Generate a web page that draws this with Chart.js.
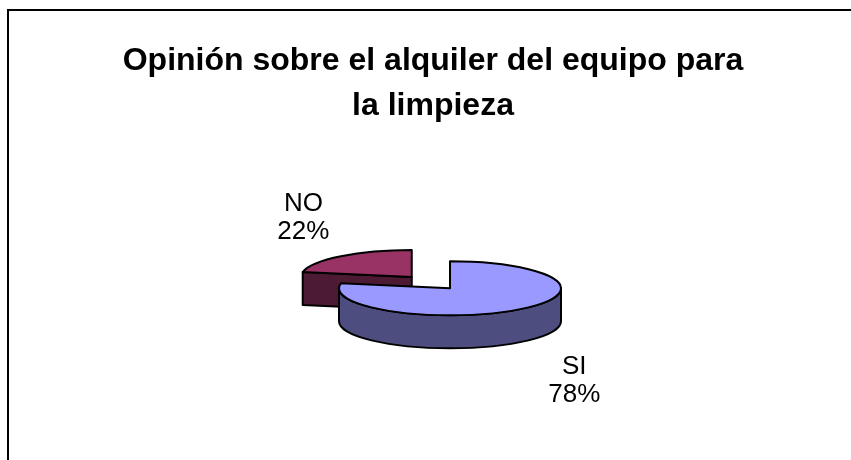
<!DOCTYPE html>
<html>
<head>
<meta charset="utf-8">
<title>Opinión sobre el alquiler del equipo para la limpieza</title>
<script src="https://cdn.jsdelivr.net/npm/chart.js@4/dist/chart.umd.min.js"></script>
<style>
  html, body { margin: 0; padding: 0; background: #fff; }
  canvas { display: block; }
</style>
</head>
<body>
<canvas id="pie" width="851" height="460"></canvas>
<script>
// data
const LABELS  = ['SI', 'NO'];
const VALUES  = [78, 22];
const TITLE   = ['Opinión sobre el alquiler del equipo para', 'la limpieza'];

// looks
const TOP_COLORS  = ['#9999FF', '#993366'];
const SIDE_COLORS = ['#4D4D80', '#4D1A33'];
const EXPLODE     = [0, 60];
const TILT    = 0.243;   // vertical squash of the disc
const DEPTH   = 33;      // thickness of the disc
const SHIFT_X = 17;      // pie sits a bit right of the title centre
const FONT    = "'Liberation Sans', Arial, sans-serif";

const frame = {
  id: 'frame',
  beforeDraw(chart) {
    const ctx = chart.ctx;
    ctx.save();
    ctx.fillStyle = '#fff';
    ctx.fillRect(0, 0, chart.width, chart.height);
    ctx.strokeStyle = '#000';
    ctx.lineWidth = 2;
    ctx.strokeRect(8, 10, chart.width + 20, chart.height + 20);
    ctx.restore();
  }
};

const pie3d = {
  id: 'pie3d',
  beforeDatasetsDraw(chart) {
    const ctx   = chart.ctx;
    const meta  = chart.getDatasetMeta(0);
    const total = VALUES.reduce((a, b) => a + b, 0);

    const slices = meta.data.map((arc, i) => {
      const p   = arc.getProps(['x', 'y', 'startAngle', 'endAngle', 'outerRadius'], true);
      const mid = (p.startAngle + p.endAngle) / 2;
      const off = arc.options.offset || 0;
      return {
        i, mid,
        a0: p.startAngle, a1: p.endAngle,
        rx: p.outerRadius, ry: p.outerRadius * TILT,
        cx: p.x + SHIFT_X + Math.cos(mid) * off,
        cy: p.y + Math.sin(mid) * off * TILT,
      };
    });

    ctx.save();
    ctx.lineWidth = 2;
    ctx.lineJoin = 'round';
    ctx.strokeStyle = '#000';

    // back slices first
    slices.slice().sort((a, b) => Math.sin(a.mid) - Math.sin(b.mid)).forEach(s => {
      const side = SIDE_COLORS[s.i];
      const pt = a => [s.cx + s.rx * Math.cos(a), s.cy + s.ry * Math.sin(a)];

      const wall = a => {
        const [x, y] = pt(a);
        ctx.beginPath();
        ctx.moveTo(s.cx, s.cy);
        ctx.lineTo(x, y);
        ctx.lineTo(x, y + DEPTH);
        ctx.lineTo(s.cx, s.cy + DEPTH);
        ctx.closePath();
        ctx.fillStyle = side;
        ctx.fill();
        ctx.stroke();
      };
      if (Math.cos(s.a0) < -1e-6) wall(s.a0);
      if (Math.cos(s.a1) > 1e-6) wall(s.a1);

      // outer curved wall, only the front half shows
      for (let k = -1; k <= 1; k++) {
        const lo = Math.max(s.a0, 2 * Math.PI * k);
        const hi = Math.min(s.a1, 2 * Math.PI * k + Math.PI);
        if (hi - lo <= 1e-6) continue;
        const [hx, hy] = pt(hi);
        ctx.beginPath();
        ctx.ellipse(s.cx, s.cy, s.rx, s.ry, 0, lo, hi, false);
        ctx.lineTo(hx, hy + DEPTH);
        ctx.ellipse(s.cx, s.cy + DEPTH, s.rx, s.ry, 0, hi, lo, true);
        ctx.closePath();
        ctx.fillStyle = side;
        ctx.fill();
        ctx.stroke();
      }

      // top face
      ctx.beginPath();
      ctx.moveTo(s.cx, s.cy);
      ctx.ellipse(s.cx, s.cy, s.rx, s.ry, 0, s.a0, s.a1, false);
      ctx.closePath();
      ctx.fillStyle = TOP_COLORS[s.i];
      ctx.fill();
      ctx.stroke();
    });

    // data labels, front ones pushed a little further out
    ctx.fillStyle = '#000';
    ctx.font = '26px ' + FONT;
    ctx.textAlign = 'center';
    ctx.textBaseline = 'middle';
    slices.forEach(s => {
      const c = Math.cos(s.mid), sn = Math.sin(s.mid);
      const x = s.cx + c * (s.rx + (sn > 0 ? 84 : 59));
      const y = s.cy + sn * (s.ry + 50) + (sn > 0 ? DEPTH : 0);
      const pct = Math.round(VALUES[s.i] / total * 100) + '%';
      ctx.fillText(LABELS[s.i], x, y - 14);
      ctx.fillText(pct, x, y + 14);
    });

    ctx.restore();
    return false;
  }
};

new Chart(document.getElementById('pie'), {
  type: 'pie',
  data: {
    labels: LABELS,
    datasets: [{
      data: VALUES,
      backgroundColor: TOP_COLORS,
      borderColor: '#000',
      borderWidth: 1,
      offset: EXPLODE,
    }],
  },
  options: {
    responsive: false,
    animation: false,
    radius: 111,
    layout: { padding: { top: 39, left: 22, right: 7, bottom: 22 } },
    plugins: {
      legend:  { display: false },
      tooltip: { enabled: false },
      title: {
        display: true,
        text: TITLE,
        color: '#000',
        font: { family: FONT, size: 32, weight: 'bold', lineHeight: 1.4 },
        padding: { top: 0, bottom: 10 },
      },
    },
  },
  plugins: [frame, pie3d],
});
</script>
</body>
</html>
